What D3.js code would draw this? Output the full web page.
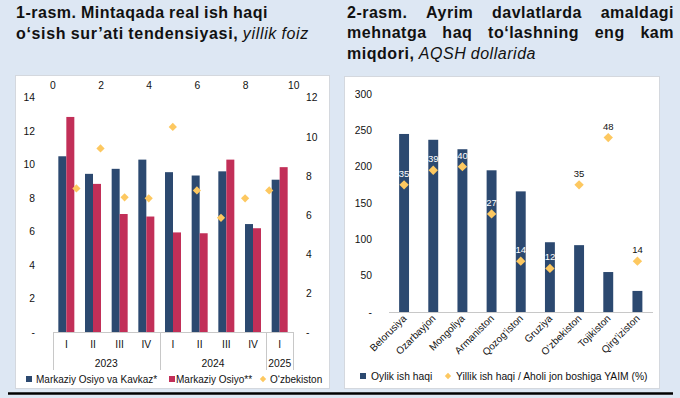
<!DOCTYPE html>
<html>
<head>
<meta charset="utf-8">
<script src="https://cdn.jsdelivr.net/npm/d3@7"></script>
<style>
  html, body { margin: 0; padding: 0; background: #dde7f3; }
  svg { display: block; font-family: "Liberation Sans", Arial, sans-serif; }
</style>
</head>
<body>
<svg id="chart" width="680" height="398"></svg>
<script>
// Left chart: real wage growth, % y/y
const quarters = ["I", "II", "III", "IV", "I", "II", "III", "IV", "I"];
const years = ["2023", "2024", "2025"];
const yearSpan = [4, 4, 1];
const cisCaucasus = [10.5, 9.45, 9.75, 10.3, 9.55, 9.35, 9.6, 6.45, 9.1];
const centralAsia = [12.85, 8.85, 7.05, 6.9, 5.95, 5.9, 10.3, 6.2, 9.85];
const uzbX = [1, 2, 3, 4, 5, 6, 7, 8, 9];
const uzbY = [7.35, 9.4, 6.9, 6.85, 10.5, 7.25, 5.85, 6.85, 7.25];
const leftTicks = [0, 2, 4, 6, 8, 10, 12, 14];
const rightTicks = [0, 2, 4, 6, 8, 10, 12];
const topTicks = [0, 2, 4, 6, 8, 10];

// Right chart: minimum wage, USD
const countries = ["Belorusiya", "Ozarbayjon", "Mongoliya", "Armaniston", "Qozog‘iston",
  "Gruziya", "O‘zbekiston", "Tojikiston", "Qirg‘iziston"];
const minWage = [245, 237, 224, 195, 166, 96, 92, 55, 29];
const wageRatio = [35, 39, 40, 27, 14, 12, 35, 48, 14];
const wageTicks = [0, 50, 100, 150, 200, 250, 300];

const BLUE = "#2c4970", RED = "#c22f58", GOLD = "#fdc860", GRID = "#c8c8c8";
const svg = d3.select("#chart");
const fmt0 = d => d === 0 ? "-" : d;

// panels
svg.append("rect").attr("x", 15.5).attr("y", 75.5).attr("width", 314).attr("height", 313)
  .attr("fill", "#fff").attr("stroke", "#d4d8de");
svg.append("rect").attr("x", 344.5).attr("y", 76.5).attr("width", 315).attr("height", 312)
  .attr("fill", "#fff").attr("stroke", "#d4d8de");
svg.append("line").attr("x1", 8).attr("x2", 673).attr("y1", 393.5).attr("y2", 393.5)
  .attr("stroke", "#000").attr("stroke-width", 2.5);

// titles: lines either justified (words spread) or stretched to an end x
const titleLine = (x0, x1, y, parts, justified) => {
  const t = svg.append("text").attr("y", y).attr("font-size", 16).attr("fill", "#111");
  const spans = parts.map(p => t.append("tspan").attr("font-weight", p.i ? "normal" : "bold")
    .attr("font-style", p.i ? "italic" : "normal").text(p.w));
  const space = 4.4;
  const measure = () => spans.map(s => s.node().getComputedTextLength());
  let widths = measure();
  let ls = 0.5;
  if (!justified) {
    const chars = d3.sum(parts, p => p.w.length);
    ls = (x1 - x0 - d3.sum(widths) - space * (parts.length - 1)) / chars;
  }
  t.attr("letter-spacing", ls);
  widths = measure();
  const gap = justified ? (x1 - x0 - d3.sum(widths)) / (parts.length - 1) : space;
  let x = x0;
  spans.forEach((s, i) => { s.attr("x", x); x += widths[i] + gap; });
};
const words = (s, i) => s.split(" ").map(w => ({ w, i }));
titleLine(16, 268, 18, words("1-rasm. Mintaqada real ish haqi"));
titleLine(16, 309, 38.5, [...words("o‘sish sur’ati tendensiyasi,"), ...words("yillik foiz", true)]);
titleLine(347, 674, 17.5, words("2-rasm. Ayrim davlatlarda amaldagi"), true);
titleLine(347, 674, 38, words("mehnatga haq to‘lashning eng kam"), true);
titleLine(347, 536, 58.5, [...words("miqdori,"), ...words("AQSH dollarida", true)]);

// ---------- left chart ----------
const L = svg.append("g").attr("font-size", 10);
const x = d3.scaleBand().domain(d3.range(quarters.length)).range([53, 293])
  .paddingInner(0.4).paddingOuter(0.2);
const x1 = d3.scaleBand().domain([0, 1]).range([0, x.bandwidth()]);
const yL = d3.scaleLinear().domain([0, 14]).range([332, 97.7]);
const yR = d3.scaleLinear().domain([0, 12]).range([332, 97.7]);
const xTop = d3.scaleLinear().domain([0, 10]).range([52.3, 293.3]);

const plain = g => { g.select(".domain").remove(); g.selectAll("text").attr("fill", "#111").attr("font-size", 10.3); };
L.append("g").attr("transform", "translate(38,0)")
  .call(d3.axisLeft(yL).tickValues(leftTicks).tickSize(0).tickPadding(3).tickFormat(fmt0)).call(plain);
L.append("g").attr("transform", "translate(303,0)")
  .call(d3.axisRight(yR).tickValues(rightTicks).tickSize(0).tickPadding(3).tickFormat(fmt0)).call(plain);
L.append("g").attr("transform", "translate(0,92)")
  .call(d3.axisTop(xTop).tickValues(topTicks).tickSize(0).tickPadding(3)).call(plain);

[cisCaucasus, centralAsia].forEach((vals, k) => {
  L.append("g").selectAll("rect").data(vals).join("rect")
    .attr("x", (d, i) => x(i) + x1(k)).attr("width", x1.bandwidth())
    .attr("y", d => yL(d)).attr("height", d => yL(0) - yL(d))
    .attr("fill", k ? RED : BLUE);
});

const diamond = d3.symbol(d3.symbolSquare, 34);
L.append("g").selectAll("path").data(uzbY).join("path")
  .attr("d", diamond)
  .attr("transform", (d, i) => `translate(${xTop(uzbX[i])},${yR(d)}) rotate(45)`)
  .attr("fill", GOLD);

// category axis with year groups
const cat = L.append("g").attr("stroke", GRID).attr("stroke-width", 1);
cat.append("line").attr("x1", 53).attr("x2", 293).attr("y1", 332.5).attr("y2", 332.5);
const half = x.step() * x.paddingInner() / 2;
let idx = 0;
const bounds = [53];
yearSpan.forEach(n => { idx += n; bounds.push(idx < quarters.length ? x(idx) - half : 293); });
bounds.forEach(b => cat.append("line").attr("x1", Math.round(b) + 0.5).attr("x2", Math.round(b) + 0.5)
  .attr("y1", 332).attr("y2", 370));
L.append("g").selectAll("text").data(quarters).join("text")
  .attr("x", (d, i) => x(i) + x.bandwidth() / 2).attr("y", 348)
  .attr("text-anchor", "middle").attr("fill", "#111").attr("font-size", 10.3).text(d => d);
L.append("g").selectAll("text").data(years).join("text")
  .attr("x", (d, i) => (bounds[i] + bounds[i + 1]) / 2).attr("y", 367)
  .attr("text-anchor", "middle").attr("fill", "#111").attr("font-size", 10.3).text(d => d);

// legend
const legL = L.append("g");
legL.append("rect").attr("x", 26).attr("y", 376).attr("width", 6).attr("height", 6).attr("fill", BLUE);
legL.append("text").attr("x", 36).attr("y", 382.5).attr("fill", "#111").text("Markaziy Osiyo va Kavkaz*");
legL.append("rect").attr("x", 169).attr("y", 376).attr("width", 6).attr("height", 6).attr("fill", RED);
legL.append("text").attr("x", 176).attr("y", 382.5).attr("fill", "#111").text("Markaziy Osiyo**");
legL.append("path").attr("d", d3.symbol(d3.symbolSquare, 20))
  .attr("transform", "translate(263,379) rotate(45)").attr("fill", GOLD);
legL.append("text").attr("x", 270).attr("y", 382.5).attr("fill", "#111").text("O‘zbekiston");

// ---------- right chart ----------
const R = svg.append("g").attr("font-size", 10);
const xc = d3.scaleBand().domain(countries).range([389.5, 652])
  .paddingInner(0.66).paddingOuter(0.33);
const yw = d3.scaleLinear().domain([0, 300]).range([312, 94]);
const yr = d3.scaleLinear().domain([0, 60]).range([312, 94]);

R.append("g").attr("transform", "translate(375,0)")
  .call(d3.axisLeft(yw).tickValues(wageTicks).tickSize(0).tickPadding(3).tickFormat(fmt0)).call(plain);

R.append("g").selectAll("rect").data(minWage).join("rect")
  .attr("x", (d, i) => xc(countries[i])).attr("width", xc.bandwidth())
  .attr("y", d => yw(d)).attr("height", d => yw(0) - yw(d)).attr("fill", BLUE);

R.append("line").attr("x1", 389).attr("x2", 653).attr("y1", 312.5).attr("y2", 312.5).attr("stroke", GRID);

const cx = c => xc(c) + xc.bandwidth() / 2;
R.append("g").selectAll("path").data(wageRatio).join("path")
  .attr("d", d3.symbol(d3.symbolSquare, 44))
  .attr("transform", (d, i) => `translate(${cx(countries[i])},${yr(d)}) rotate(45)`)
  .attr("fill", GOLD);
R.append("g").selectAll("text").data(wageRatio).join("text")
  .attr("x", (d, i) => cx(countries[i])).attr("y", d => yr(d) - 8)
  .attr("text-anchor", "middle").attr("font-size", 9.5)
  .attr("fill", (d, i) => yw(minWage[i]) < yr(d) - 14 ? "#fff" : "#111")
  .text(d => d);

R.append("g").selectAll("text").data(countries).join("text")
  .attr("transform", d => `translate(${cx(d) + 3},${319}) rotate(-45)`)
  .attr("text-anchor", "end").attr("font-size", 10).attr("fill", "#111").text(d => d);

const legR = R.append("g").attr("font-size", 10.3);
legR.append("rect").attr("x", 360).attr("y", 373).attr("width", 6).attr("height", 6).attr("fill", BLUE);
legR.append("text").attr("x", 371).attr("y", 379.5).attr("fill", "#111").text("Oylik ish haqi");
legR.append("path").attr("d", d3.symbol(d3.symbolSquare, 20))
  .attr("transform", "translate(448,376) rotate(45)").attr("fill", GOLD);
legR.append("text").attr("x", 456).attr("y", 379.5).attr("fill", "#111")
  .text("Yillik ish haqi / Aholi jon boshiga YAIM (%)");
</script>
</body>
</html>
